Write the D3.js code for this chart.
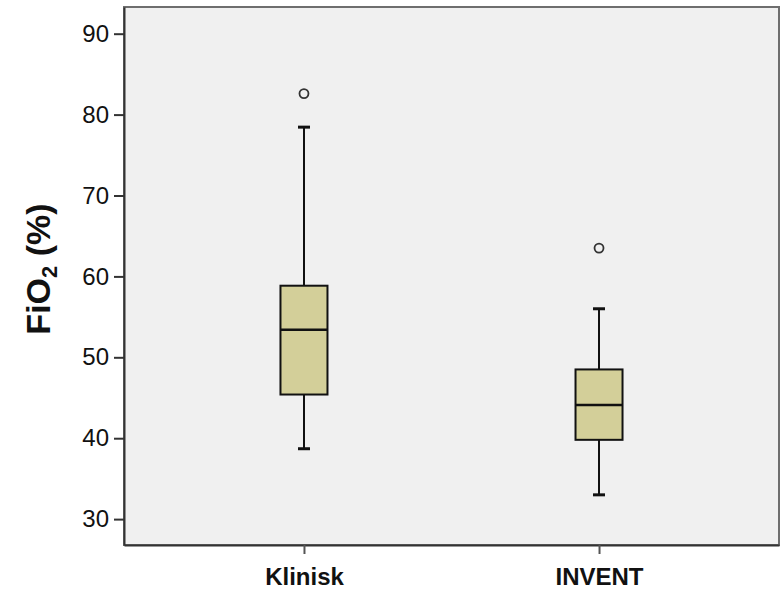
<!DOCTYPE html>
<html>
<head>
<meta charset="utf-8">
<script src="https://cdn.jsdelivr.net/npm/d3@7"></script>
<style>
  html, body { margin: 0; padding: 0; background: #ffffff; }
  svg { display: block; font-family: "Liberation Sans", Arial, sans-serif; }
</style>
</head>
<body>
<svg id="chart" width="782" height="590"></svg>
<script>
// ---- data ----
const categories = ["Klinisk", "INVENT"];
const whiskerLow  = [38.7, 33.0];
const q1          = [45.4, 39.8];
const median      = [53.4, 44.1];
const q3          = [58.85, 48.5];
const whiskerHigh = [78.45, 56.0];
const outliers    = [[82.6], [63.5]];
const yTicks      = [30, 40, 50, 60, 70, 80, 90];

// ---- layout ----
const svg = d3.select("#chart");
const plot = { left: 124, right: 779, top: 7, bottom: 545 };

const x = d3.scalePoint()
  .domain(categories)
  .range([plot.left, plot.right])
  .padding(0.61);

const y = d3.scaleLinear()
  .domain([26.8, 93.3])
  .range([plot.bottom, plot.top]);

// plot background
svg.append("rect")
  .attr("x", plot.left).attr("y", plot.top)
  .attr("width", plot.right - plot.left)
  .attr("height", plot.bottom - plot.top)
  .attr("fill", "#f0f0f0")
  .attr("stroke", "#6e6e6e")
  .attr("stroke-width", 2);

// y axis
const yAxis = d3.axisLeft(y).tickValues(yTicks).tickSizeInner(10).tickSizeOuter(0)
  .tickPadding(5).tickFormat(d3.format("d"));
const gy = svg.append("g").attr("transform", `translate(${plot.left},0)`).call(yAxis);
gy.select(".domain").attr("stroke", "#333").attr("stroke-width", 2);
gy.selectAll(".tick line").attr("stroke", "#333").attr("stroke-width", 2);
gy.selectAll(".tick text").attr("font-size", 24).attr("fill", "#111")
  .attr("font-family", "'Liberation Sans', Arial, sans-serif");

// x axis
const xAxis = d3.axisBottom(x).tickSizeInner(9).tickSizeOuter(0).tickPadding(14);
const gx = svg.append("g").attr("transform", `translate(0,${plot.bottom})`).call(xAxis);
gx.select(".domain").attr("stroke", "#333").attr("stroke-width", 2);
gx.selectAll(".tick line").attr("stroke", "#555").attr("stroke-width", 2);
gx.selectAll(".tick text").attr("font-size", 24).attr("font-weight", "bold").attr("fill", "#111")
  .attr("font-family", "'Liberation Sans', Arial, sans-serif");

// boxes
const boxW = 47, capW = 12;
const data = categories.map((c, i) => ({
  c, lo: whiskerLow[i], q1: q1[i], med: median[i], q3: q3[i], hi: whiskerHigh[i], out: outliers[i]
}));

const g = svg.append("g");
data.forEach(d => {
  const cx = x(d.c);
  // whiskers
  g.append("line").attr("x1", cx).attr("x2", cx).attr("y1", y(d.q3)).attr("y2", y(d.hi))
    .attr("stroke", "#111").attr("stroke-width", 2);
  g.append("line").attr("x1", cx).attr("x2", cx).attr("y1", y(d.q1)).attr("y2", y(d.lo))
    .attr("stroke", "#111").attr("stroke-width", 2);
  // caps
  [d.hi, d.lo].forEach(v => {
    g.append("line").attr("x1", cx - capW / 2).attr("x2", cx + capW / 2)
      .attr("y1", y(v)).attr("y2", y(v))
      .attr("stroke", "#111").attr("stroke-width", 3);
  });
  // box
  g.append("rect").attr("x", cx - boxW / 2).attr("y", y(d.q3))
    .attr("width", boxW).attr("height", y(d.q1) - y(d.q3))
    .attr("fill", "#d3cf99").attr("stroke", "#111").attr("stroke-width", 2);
  // median
  g.append("line").attr("x1", cx - boxW / 2).attr("x2", cx + boxW / 2)
    .attr("y1", y(d.med)).attr("y2", y(d.med))
    .attr("stroke", "#111").attr("stroke-width", 2.5);
  // outliers
  d.out.forEach(v => {
    g.append("circle").attr("cx", cx).attr("cy", y(v)).attr("r", 4.5)
      .attr("fill", "none").attr("stroke", "#333").attr("stroke-width", 1.8);
  });
});

// y title
const title = svg.append("text")
  .attr("transform", `translate(50,269) rotate(-90)`)
  .attr("text-anchor", "middle")
  .attr("font-size", 34).attr("font-weight", "bold").attr("fill", "#111")
  .attr("font-family", "'Liberation Sans', Arial, sans-serif");
title.append("tspan").text("FiO");
title.append("tspan").attr("font-size", 22).attr("dy", 7).text("2");
title.append("tspan").attr("dy", -7).text(" (%)");
</script>
</body>
</html>
